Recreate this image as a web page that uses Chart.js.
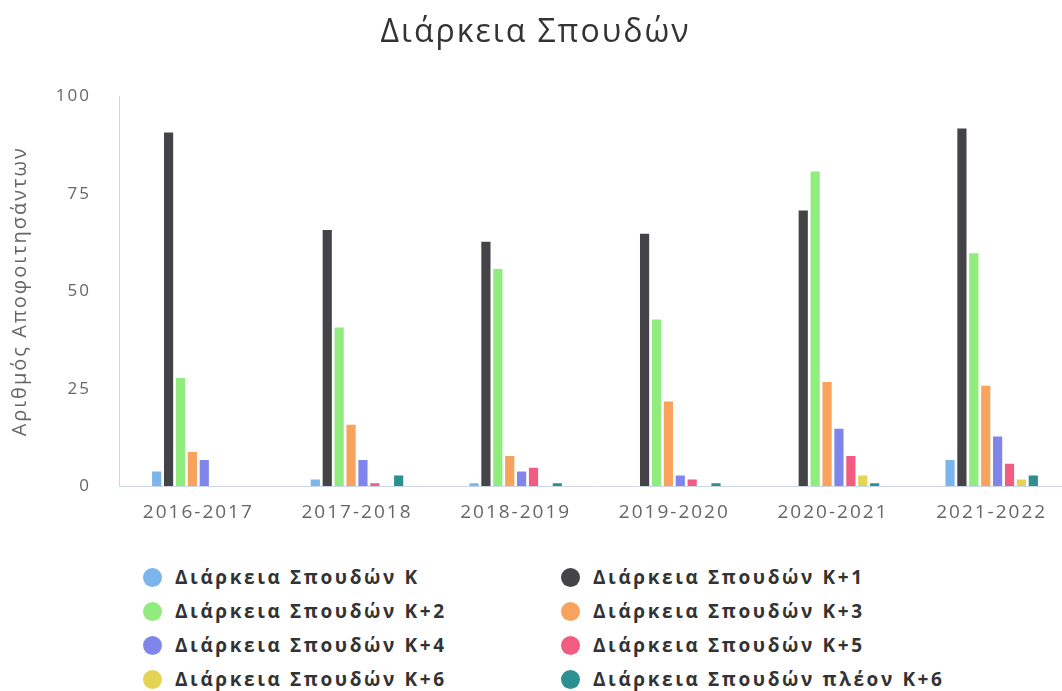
<!DOCTYPE html>
<html>
<head>
<meta charset="utf-8">
<script src="https://cdn.jsdelivr.net/npm/chart.js@4"></script>
<style>
  html, body { margin: 0; padding: 0; background: #fff; overflow: hidden; }
  #wrap { width: 1075px; }
  #chartBox { position: relative; width: 1075px; height: 545px; }
  #legend {
    display: grid;
    grid-template-columns: 418px 418px;
    margin-left: 143px;
    margin-top: 15px;
  }
  .item {
    display: flex; align-items: center; height: 34px;
    font: bold 19px 'Open Sans', sans-serif; color: #333; letter-spacing: 2.6px;
  }
  .dot { width: 19px; height: 19px; border-radius: 50%; margin-right: 13px; flex: none; }
</style>
</head>
<body>
<div id="wrap">
  <div id="chartBox"><canvas id="studyChart"></canvas></div>
  <div id="legend"></div>
</div>
<script>
// Δεδομένα
const years = ['2016-2017', '2017-2018', '2018-2019', '2019-2020', '2020-2021', '2021-2022'];
const seriesNames = [
  'Διάρκεια Σπουδών Κ', 'Διάρκεια Σπουδών Κ+1', 'Διάρκεια Σπουδών Κ+2', 'Διάρκεια Σπουδών Κ+3',
  'Διάρκεια Σπουδών Κ+4', 'Διάρκεια Σπουδών Κ+5', 'Διάρκεια Σπουδών Κ+6', 'Διάρκεια Σπουδών πλέον Κ+6'
];
const seriesColors = ['#7cb5ec', '#434348', '#90ed7d', '#f7a35c', '#8085e9', '#f15c80', '#e4d354', '#2b908f'];

const durK   = [4, 2, 1, 0, 0, 7];
const durK1  = [91, 66, 63, 65, 71, 92];
const durK2  = [28, 41, 56, 43, 81, 60];
const durK3  = [9, 16, 8, 22, 27, 26];
const durK4  = [7, 7, 4, 3, 15, 13];
const durK5  = [0, 1, 5, 2, 8, 6];
const durK6  = [0, 0, 0, 0, 3, 2];
const durK6p = [0, 3, 1, 1, 1, 3];
const seriesValues = [durK, durK1, durK2, durK3, durK4, durK5, durK6, durK6p];

const yTicks = [0, 25, 50, 75, 100];

const axisColor = '#ccd6eb';
const fontFamily = "'Open Sans', sans-serif";

// αραιό κείμενο στον καμβά
const spacingPlugin = {
  id: 'letterSpacing',
  beforeUpdate(chart) { chart.ctx.letterSpacing = '2px'; },
  beforeDraw(chart) { chart.ctx.letterSpacing = '2px'; }
};

const ctx = document.getElementById('studyChart').getContext('2d');
const studyChart = new Chart(ctx, {
  type: 'bar',
  data: {
    labels: years,
    datasets: seriesNames.map((name, i) => ({
      label: name,
      data: seriesValues[i],
      backgroundColor: seriesColors[i],
      borderColor: '#ffffff',
      borderWidth: 1,
      categoryPercentage: 0.6,
      barPercentage: 0.94
    }))
  },
  plugins: [spacingPlugin],
  options: {
    responsive: true,
    maintainAspectRatio: false,
    animation: false,
    layout: { padding: { left: 0, right: 4, bottom: 6 } },
    plugins: {
      legend: { display: false },
      tooltip: { enabled: false },
      title: {
        display: true,
        text: 'Διάρκεια Σπουδών',
        color: '#333333',
        font: { family: fontFamily, size: 32, weight: 'normal' },
        padding: { top: 14, bottom: 44 }
      }
    },
    scales: {
      x: {
        grid: { display: false, drawTicks: false },
        border: { display: true, color: axisColor, width: 1 },
        ticks: { color: '#666666', font: { family: fontFamily, size: 19 }, padding: 15, maxRotation: 0 }
      },
      y: {
        min: 0,
        max: 100,
        afterBuildTicks: scale => { scale.ticks = yTicks.map(v => ({ value: v })); },
        afterFit: scale => { scale.width = 119; },
        grid: { display: false, drawTicks: false },
        border: { display: true, color: axisColor, width: 1 },
        ticks: { color: '#666666', font: { family: fontFamily, size: 17 }, padding: 28 },
        title: {
          display: true,
          text: 'Αριθμός Αποφοιτησάντων',
          color: '#666666',
          font: { family: fontFamily, size: 20 },
          padding: { top: 8, bottom: 0 }
        }
      }
    }
  }
});

// Υπόμνημα σε δύο στήλες
const legendEl = document.getElementById('legend');
studyChart.data.datasets.forEach(ds => {
  const item = document.createElement('div');
  item.className = 'item';
  const dot = document.createElement('span');
  dot.className = 'dot';
  dot.style.background = ds.backgroundColor;
  const txt = document.createElement('span');
  txt.textContent = ds.label;
  item.appendChild(dot);
  item.appendChild(txt);
  legendEl.appendChild(item);
});
</script>
</body>
</html>
